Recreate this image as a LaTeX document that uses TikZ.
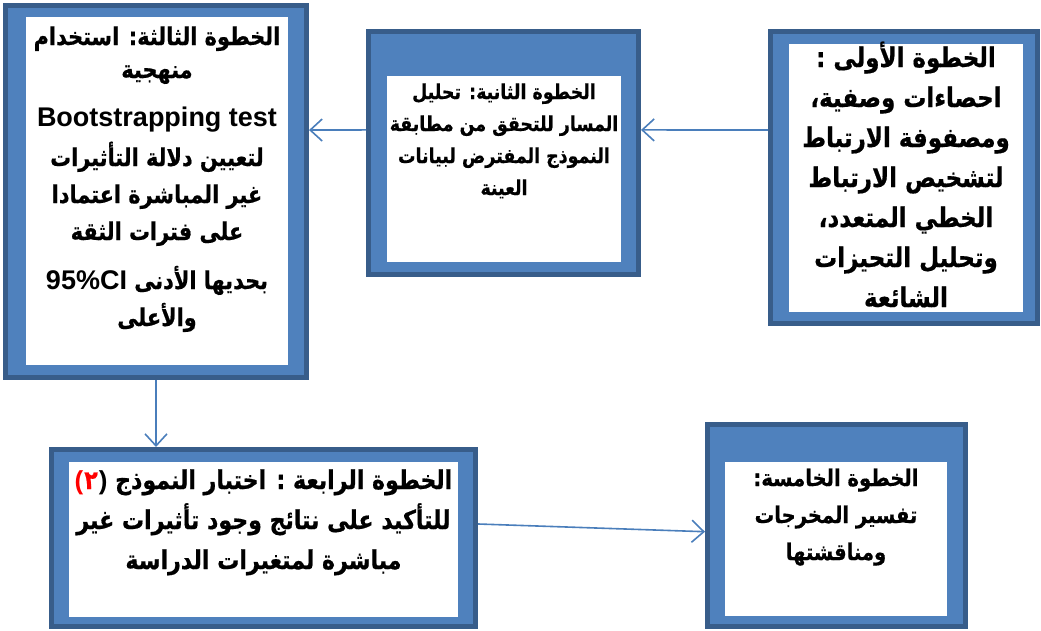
\documentclass[tikz,border=0pt]{standalone}
\usepackage{fontspec}
\usetikzlibrary{arrows.meta,calc}
\TeXXeTstate=1
\newfontfamily\arf[Script=Arabic,FakeStretch=0.85,BoldFeatures={FakeBold=0.6}]{DejaVu Sans}
\newfontfamily\latf{Liberation Sans}
\newcommand\RL[1]{\beginR #1\endR}
\newcommand\numtwo{\mbox{\beginL{\latf\bfseries\textcolor{redt}{(}}\kern1pt{\arf\bfseries\textcolor{redt}{٢}}\kern1pt{\latf\bfseries )}\endL}}
\definecolor{darkb}{HTML}{385D8A}
\definecolor{midb}{HTML}{4F81BD}
\definecolor{arrb}{HTML}{4A7EBB}
\definecolor{redt}{HTML}{FF0000}
\begin{document}
\begin{tikzpicture}[x=1pt,y=-1pt,
  outerbox/.style={fill=darkb, draw=none, anchor=north west, inner sep=0pt, outer sep=0pt},
  whitebox/.style={fill=white, draw=none, anchor=north west, inner sep=0pt, outer sep=0pt},
  txt/.style={anchor=base, align=center, inner sep=0pt},
  conn/.style={draw=arrb, line width=1.6pt, -{Straight Barb[length=12pt,width=22pt,line width=1.6pt]}}
]
\useasboundingbox (0,0) rectangle (1041,630);

% Box 1
\node[outerbox, minimum width=272pt, minimum height=297pt] (b1) at (768,29) {};
\fill[midb] ($(b1.north west)+(5,5)$) rectangle ($(b1.south east)+(-5,-5)$);
\node[whitebox, minimum width=234pt, minimum height=268pt] (w1) at (789,44) {};
\node[txt, font=\arf\bfseries\fontsize{27}{40}\selectfont] (t1) at ($(w1.north)+(0,263)$)
 {\RL{الخطوة الأولى :}\\\RL{احصاءات وصفية،}\\\RL{ومصفوفة الارتباط}\\\RL{لتشخيص الارتباط}\\\RL{الخطي المتعدد،}\\\RL{وتحليل التحيزات}\\\RL{الشائعة}};

% Box 2
\node[outerbox, minimum width=275pt, minimum height=248pt] (b2) at (366,29) {};
\fill[midb] ($(b2.north west)+(5,5)$) rectangle ($(b2.south east)+(-5,-5)$);
\node[whitebox, minimum width=234pt, minimum height=186pt] (w2) at (387,76) {};
\node[txt, font=\arf\bfseries\fontsize{20.5}{32}\selectfont] (t2) at ($(w2.north)+(0,119)$)
 {\RL{الخطوة الثانية: تحليل}\\\RL{المسار للتحقق من مطابقة}\\\RL{النموذج المفترض لبيانات}\\\RL{العينة}};

% Box 3
\node[outerbox, minimum width=306pt, minimum height=377pt] (b3) at (3,3) {};
\fill[midb] ($(b3.north west)+(5,5)$) rectangle ($(b3.south east)+(-5,-5)$);
\node[whitebox, minimum width=262pt, minimum height=348pt] (w3) at (26,17) {};
\node[txt, font=\arf\bfseries\fontsize{24.5}{37}\selectfont] (t3) at ($(w3.north)+(0,309)$)
 {\RL{الخطوة الثالثة: استخدام}\\[-4pt]\RL{منهجية}\\[11pt]{\latf\bfseries\fontsize{27}{37}\selectfont Bootstrapping test}\\[3pt]\RL{لتعيين دلالة التأثيرات}\\\RL{غير المباشرة اعتمادا}\\\RL{على فترات الثقة}\\[12pt]\RL{بحديها الأدنى \beginL{\latf\bfseries\fontsize{27}{37}\selectfont 95\%CI}\endL}\\\RL{والأعلى}};

% Box 4
\node[outerbox, minimum width=429pt, minimum height=182pt] (b4) at (49,447) {};
\fill[midb] ($(b4.north west)+(5,5)$) rectangle ($(b4.south east)+(-5,-5)$);
\node[whitebox, minimum width=389pt, minimum height=155pt] (w4) at (69,462) {};
\node[txt, font=\arf\bfseries\fontsize{26}{40}\selectfont] (t4) at ($(w4.north)+(0,107)$)
 {\RL{الخطوة الرابعة : اختبار النموذج \numtwo}\\\RL{للتأكيد على نتائج وجود تأثيرات غير}\\\RL{مباشرة لمتغيرات الدراسة}};

% Box 5
\node[outerbox, minimum width=263pt, minimum height=207pt] (b5) at (705,422) {};
\fill[midb] ($(b5.north west)+(5,5)$) rectangle ($(b5.south east)+(-5,-5)$);
\node[whitebox, minimum width=222pt, minimum height=154pt] (w5) at (725,462) {};
\node[txt, font=\arf\bfseries\fontsize{23}{37}\selectfont] (t5) at ($(w5.north)+(0,98)$)
 {\RL{الخطوة الخامسة:}\\\RL{تفسير المخرجات}\\\RL{ومناقشتها}};

% Connectors
\draw[conn] ($(b1.north west)!0.34!(b1.south west)$) -- ($(b2.north east)!0.407!(b2.south east)$);
\draw[conn] ($(b2.north west)!0.407!(b2.south west)$) -- ($(b3.north east)!0.337!(b3.south east)$);
\draw[conn] (b3.south) -- (b3.south |- b4.north);
\draw[conn] ($(b4.north east)!0.423!(b4.south east)$) -- ($(b5.north west)!0.53!(b5.south west)$);
\end{tikzpicture}
\end{document}
